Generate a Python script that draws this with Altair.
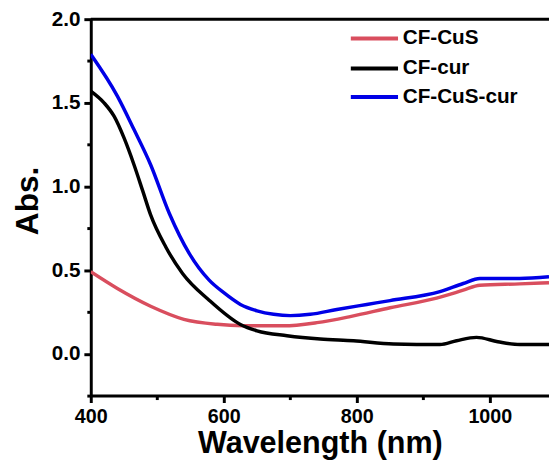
import altair as alt
import pandas as pd

# ---- data ----
series_names = ["CF-CuS", "CF-cur", "CF-CuS-cur"]
series_colors = ["#D94E5E", "#000000", "#0000E6"]

wl_cus = [400, 440, 490, 540, 590, 630, 690, 740, 790, 850, 920, 960, 985, 1045, 1089]
abs_cus = [0.49, 0.39, 0.284, 0.206, 0.176, 0.168, 0.167, 0.186, 0.222, 0.275, 0.333, 0.38, 0.41, 0.418, 0.425]

wl_cur = [400, 420, 435, 450, 465, 478, 490, 513, 538, 578, 625, 650, 695, 745, 795, 855, 925, 950, 980, 1012, 1045, 1089]
abs_cur = [1.57, 1.50, 1.42, 1.29, 1.13, 0.975, 0.83, 0.637, 0.48, 0.32, 0.175, 0.137, 0.108, 0.088, 0.078, 0.059, 0.055, 0.078, 0.098, 0.072, 0.055, 0.055]

wl_cuscur = [400, 440, 465, 490, 518, 548, 578, 600, 625, 650, 675, 700, 730, 770, 815, 850, 925, 960, 985, 1045, 1089]
abs_cuscur = [1.79, 1.54, 1.34, 1.13, 0.84, 0.60, 0.44, 0.365, 0.295, 0.257, 0.236, 0.228, 0.236, 0.265, 0.295, 0.318, 0.372, 0.42, 0.45, 0.45, 0.46]

x_ticks = [400, 500, 600, 700, 800, 900, 1000]
y_ticks = [-0.25, 0.0, 0.25, 0.5, 0.75, 1.0, 1.25, 1.5, 1.75, 2.0]

rows = []
for name, xs, ys in [
    ("CF-CuS", wl_cus, abs_cus),
    ("CF-cur", wl_cur, abs_cur),
    ("CF-CuS-cur", wl_cuscur, abs_cuscur),
]:
    for i, (x, y) in enumerate(zip(xs, ys)):
        rows.append({"series": name, "wl": x, "abs": y, "order": i})
df = pd.DataFrame(rows)

# legend layout (inside plot, data units)
legend_y = [1.885, 1.705, 1.535]
df_leg = pd.DataFrame({
    "series": series_names,
    "y": legend_y,
    "x1": [791] * 3,
    "x2": [862] * 3,
    "xt": [869] * 3,
})

FONT = "Liberation Sans"
xscale = alt.Scale(domain=[400, 1089], nice=False, zero=False)
yscale = alt.Scale(domain=[-0.25, 2.0], nice=False, zero=False)
color = alt.Color("series:N", scale=alt.Scale(domain=series_names, range=series_colors), legend=None)

x_axis = alt.Axis(
    values=x_ticks, format="d",
    labelExpr="datum.value % 200 === 0 ? datum.label : ''",
    tickSize={"condition": {"test": "datum.value % 200 === 0", "value": 7}, "value": 4},
    tickWidth=3, tickColor="black", domainWidth=3, domainColor="black",
    labelFont=FONT, labelFontWeight="bold", labelFontSize=20, labelColor="black", labelPadding=4,
    title="Wavelength (nm)", titleFont=FONT, titleFontWeight="bold", titleFontSize=31,
    titleColor="black", titlePadding=3, grid=False, labelFlush=False,
)
y_axis = alt.Axis(
    values=y_ticks, format=".1f",
    labelExpr="abs(datum.value*2 - round(datum.value*2)) < 0.01 ? datum.label : ''",
    tickSize={"condition": {"test": "abs(datum.value*2 - round(datum.value*2)) < 0.01", "value": 7}, "value": 4},
    tickWidth=3, tickColor="black", domainWidth=3, domainColor="black",
    labelFont=FONT, labelFontWeight="bold", labelFontSize=21, labelColor="black", labelPadding=4,
    title="Abs.", titleFont=FONT, titleFontWeight="bold", titleFontSize=32,
    titleColor="black", titlePadding=7, titleY=184, grid=False, labelFlush=False,
)

lines = alt.Chart(df).mark_line(strokeWidth=3.5, interpolate="monotone", clip=True).encode(
    x=alt.X("wl:Q", scale=xscale, axis=x_axis),
    y=alt.Y("abs:Q", scale=yscale, axis=y_axis),
    color=color,
    order="order:Q",
)

top_frame = alt.Chart(pd.DataFrame({"y": [2.0]})).mark_rule(strokeWidth=3, color="black").encode(
    y=alt.Y("y:Q", scale=yscale)
)

leg_lines = alt.Chart(df_leg).mark_rule(strokeWidth=4).encode(
    x=alt.X("x1:Q", scale=xscale), x2="x2:Q",
    y=alt.Y("y:Q", scale=yscale), color=color,
)
leg_text = alt.Chart(df_leg).mark_text(
    align="left", baseline="middle", font=FONT, fontWeight="bold", fontSize=21, color="black"
).encode(
    x=alt.X("xt:Q", scale=xscale), y=alt.Y("y:Q", scale=yscale), text="series:N"
)

chart = alt.layer(lines, top_frame, leg_lines, leg_text).properties(
    width=465, height=382,
    autosize=alt.AutoSizeParams(type="none"),
    padding={"left": 84, "top": 8, "right": 0, "bottom": 62},
    background="white",
).configure_view(stroke=None)

chart.save("out.html", embed_options={"renderer": "svg", "actions": False})
